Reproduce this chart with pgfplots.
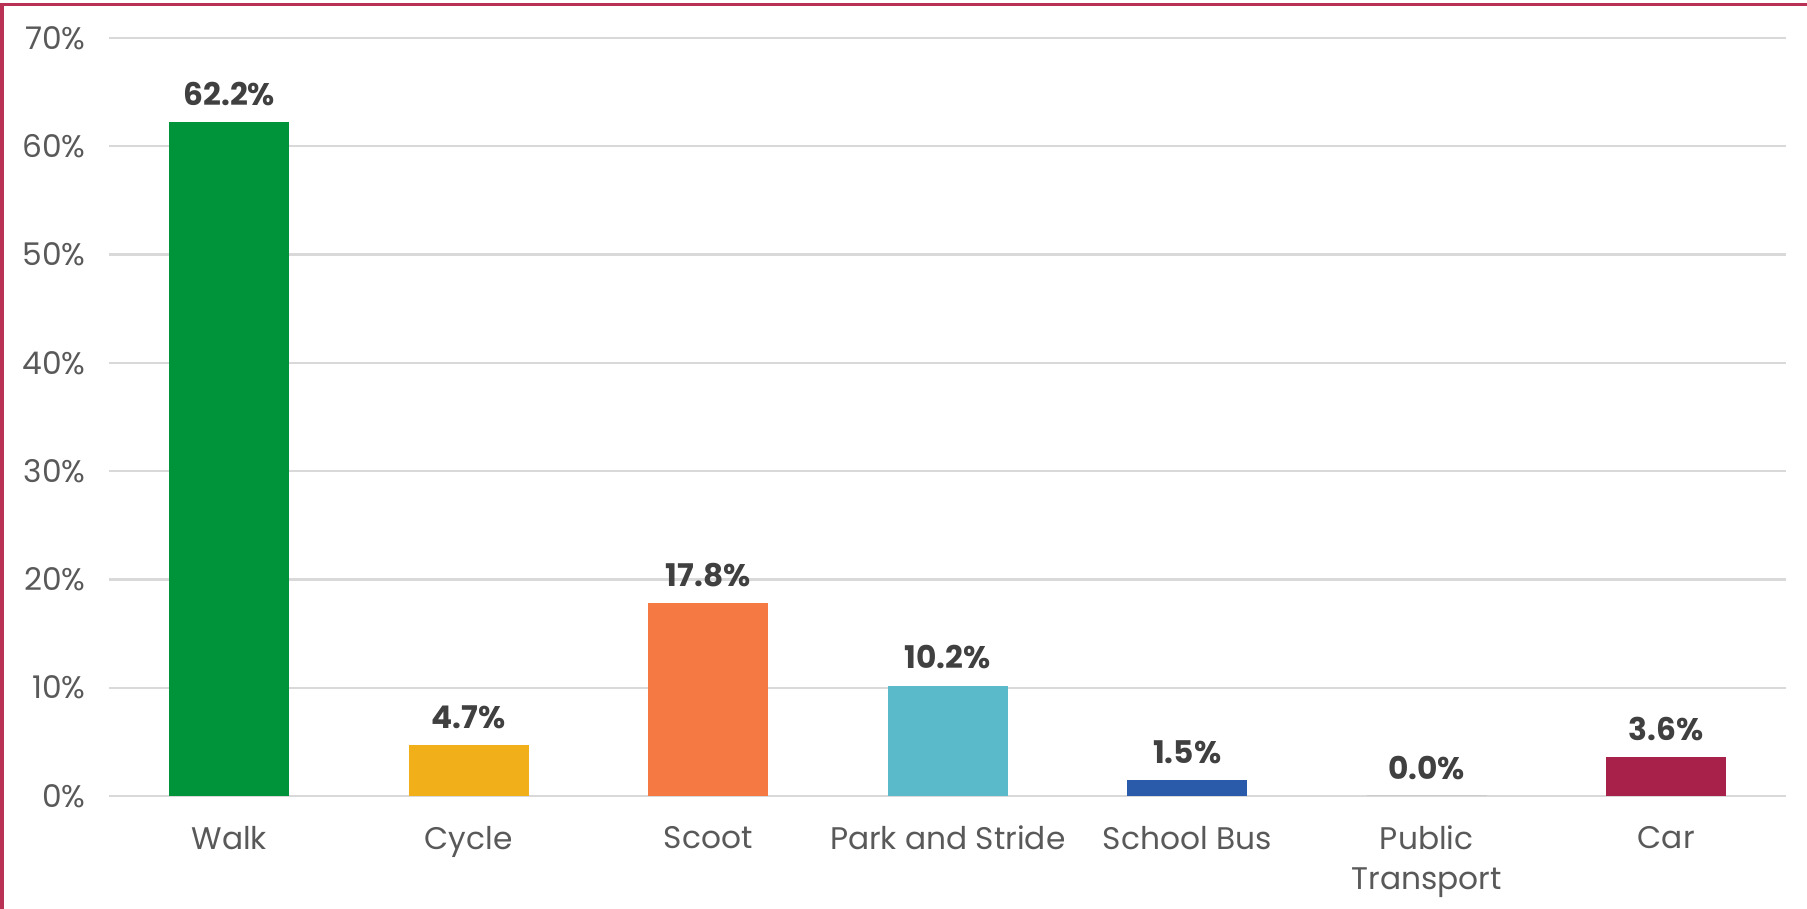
\documentclass[border=0pt]{standalone}
\usepackage{pgfplots}
\pgfplotsset{compat=1.18}
\usepackage{fontspec}
\setmainfont{Poppins}
\definecolor{cwalk}{RGB}{0,148,58}
\definecolor{ccycle}{RGB}{241,176,26}
\definecolor{cscoot}{RGB}{244,121,66}
\definecolor{cpark}{RGB}{91,186,201}
\definecolor{cbus}{RGB}{41,91,170}
\definecolor{cpub}{RGB}{120,120,120}
\definecolor{ccar}{RGB}{168,33,74}
\definecolor{cborder}{RGB}{185,50,85}
\definecolor{tickgray}{RGB}{89,89,89}
\definecolor{labgray}{RGB}{64,64,64}
\definecolor{gridgray}{RGB}{217,217,217}
\begin{document}
\begin{tikzpicture}
\path[use as bounding box] (0,0) rectangle (722.8pt,363.6pt);
\draw[cborder, line width=1.2pt] (0,361.6pt) -- (722.8pt,361.6pt);
\draw[cborder, line width=1.2pt] (0.8pt,0) -- (0.8pt,361.6pt);
\begin{axis}[
  at={(43.8pt,45.2pt)}, anchor=south west,
  scale only axis, width=670.6pt, height=303.2pt,
  ybar, bar width=48pt, bar shift=0pt,
  xmin=-0.5, xmax=6.5, ymin=0, ymax=70,
  xtick={0,1,2,3,4,5,6},
  xticklabels={Walk,Cycle,Scoot,Park and Stride,School Bus,Public\\Transport,Car},
  ytick={0,10,20,30,40,50,60,70},
  yticklabel={\pgfmathprintnumber{\tick}\%},
  /pgf/number format/assume math mode=true,
  major tick length=0pt,
  axis line style={draw=none},
  ymajorgrids, grid style={gridgray, line width=0.9pt},
  tick label style={font=\fontsize{12.5}{16}\selectfont, text=tickgray},
  xticklabel style={align=center, yshift=-8.5pt},
  yticklabel style={xshift=-6pt},
  nodes near coords={\pgfmathprintnumber[fixed,fixed zerofill,precision=1]{\pgfplotspointmeta}\%},
  nodes near coords style={font=\fontsize{12.5}{15}\selectfont\bfseries, text=labgray, yshift=3pt},
  every axis plot/.append style={draw=none},
]
\addplot[fill=cwalk] coordinates {(0,62.2)};
\addplot[fill=ccycle] coordinates {(1,4.7)};
\addplot[fill=cscoot] coordinates {(2,17.8)};
\addplot[fill=cpark] coordinates {(3,10.2)};
\addplot[fill=cbus] coordinates {(4,1.5)};
\addplot[fill=cpub] coordinates {(5,0.0)};
\addplot[fill=ccar] coordinates {(6,3.6)};
\end{axis}
\end{tikzpicture}
\end{document}
